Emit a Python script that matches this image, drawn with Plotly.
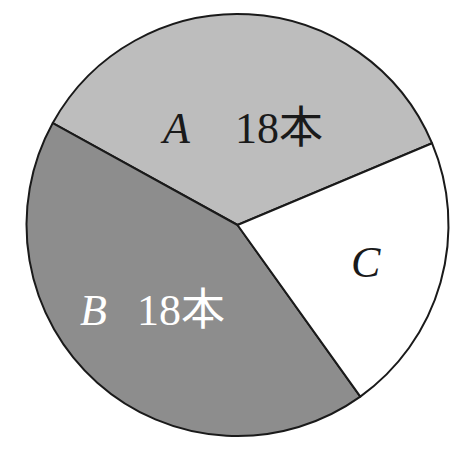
import plotly.graph_objects as go

# Slice names, angular sizes (degrees) and printed counts
categories = ["A", "B", "C"]
angles_deg = [128.3, 154.5, 77.2]
count_labels = ["18本", "18本", ""]
colors = ["#bdbdbd", "#8d8d8d", "#ffffff"]

# the page body has an 8px margin, so the figure sits at (8, 8) in the window
OFF = 8
W, H = 462 - 2 * OFF, 457 - 2 * OFF

# target circle in window pixels
cx, cy, r = 237.5, 225, 211
fx, fy = cx - OFF, cy - OFF
dom_x = [(fx - r) / W, (fx + r) / W]
dom_y = [(H - fy - r) / H, (H - fy + r) / H]

fig = go.Figure(go.Pie(
    labels=categories,
    values=angles_deg,
    sort=False,
    direction="counterclockwise",
    rotation=-61.1,
    textinfo="none",
    hoverinfo="label",
    marker=dict(colors=colors, line=dict(color="#1a1a1a", width=2)),
    domain=dict(x=dom_x, y=dom_y),
    showlegend=False,
))

serif = "Liberation Serif, Times New Roman, Noto Sans CJK JP, serif"
# label centres in window pixels
letter_pos = [(175.5, 128), (93.5, 310), (365.5, 262)]
count_pos = [(279, 128), (181, 310), None]
text_colors = ["#1a1a1a", "#ffffff", "#1a1a1a"]


def to_paper(p):
    return (p[0] - OFF) / W, 1 - (p[1] - OFF) / H


ann = []
for cat, lp, cp, cnt, tc in zip(categories, letter_pos, count_pos, count_labels, text_colors):
    px, py = to_paper(lp)
    ann.append(dict(x=px, y=py, xref="paper", yref="paper",
                    xanchor="center", yanchor="middle",
                    text=f"<i>{cat}</i>", showarrow=False,
                    font=dict(family=serif, size=44, color=tc)))
    if cp is not None and cnt:
        qx, qy = to_paper(cp)
        ann.append(dict(x=qx, y=qy, xref="paper", yref="paper",
                        xanchor="center", yanchor="middle",
                        text=cnt, showarrow=False,
                        font=dict(family=serif, size=44, color=tc)))

fig.update_layout(
    width=W, height=H,
    margin=dict(l=0, r=0, t=0, b=0),
    paper_bgcolor="white", plot_bgcolor="white",
    annotations=ann,
)

fig.write_html("out.html")
